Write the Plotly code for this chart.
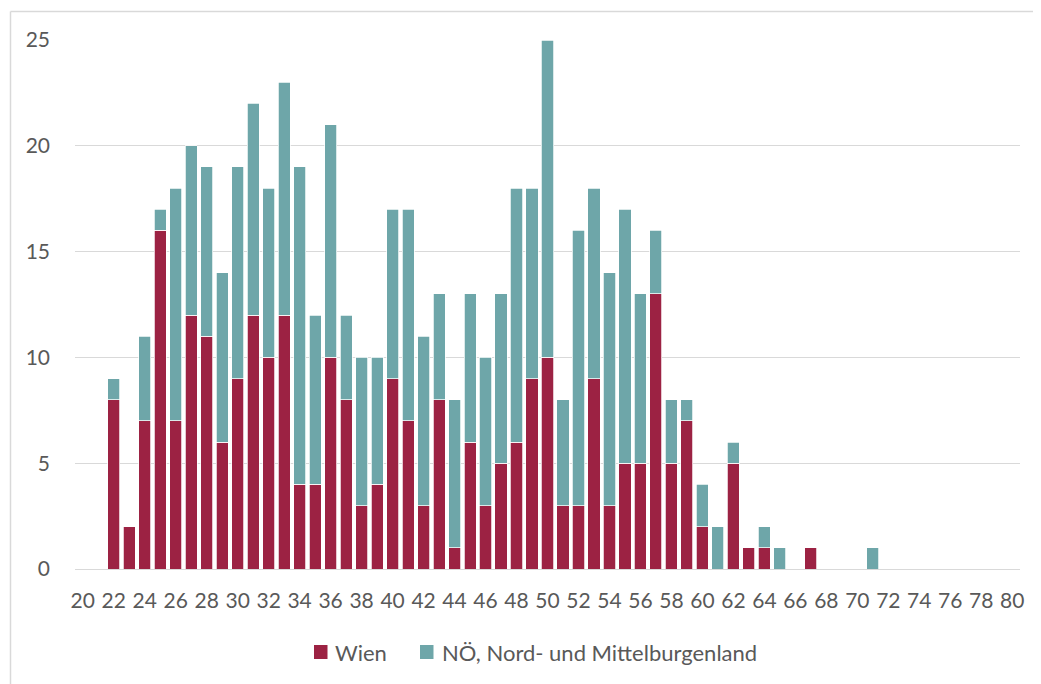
import plotly.graph_objects as go

# Age categories (x axis)
ages = list(range(20, 81))

# Counts per age: Wien (red) and NÖ, Nord- und Mittelburgenland (teal)
wien = [0, 0, 8, 2, 7, 16, 7, 12, 11, 6,
        9, 12, 10, 12, 4, 4, 10, 8, 3, 4,
        9, 7, 3, 8, 1, 6, 3, 5, 6, 9,
        10, 3, 3, 9, 3, 5, 5, 13, 5, 7,
        2, 0, 5, 1, 1, 0, 0, 1, 0, 0,
        0, 0, 0, 0, 0, 0, 0, 0, 0, 0,
        0]
noe = [0, 0, 1, 0, 4, 1, 11, 8, 8, 8,
       10, 10, 8, 11, 15, 8, 11, 4, 7, 6,
       8, 10, 8, 5, 7, 7, 7, 8, 12, 9,
       15, 5, 13, 9, 11, 12, 8, 3, 3, 1,
       2, 2, 1, 0, 1, 1, 0, 0, 0, 0,
       0, 1, 0, 0, 0, 0, 0, 0, 0, 0,
       0]

x_ticks = list(range(20, 81, 2))
y_ticks = [0, 5, 10, 15, 20, 25]

series_names = ["Wien", "NÖ, Nord- und Mittelburgenland"]
colors = ["#9C2243", "#6EA6A9"]

# page body has an 8px margin; work in screen pixels and convert
OFF = 8
W, H = 1041 - OFF, 684 - OFF
ML, MR, MT, MB = 75 - OFF, 21, 40 - OFF, 115
pw, ph = W - ML - MR, H - MT - MB

def sx(px):
    return (px - OFF - ML) / pw

def sy(py):
    return (H - MB - (py - OFF)) / ph

fig = go.Figure()
for name, vals, col in zip(series_names, [wien, noe], colors):
    fig.add_trace(go.Bar(
        x=ages, y=vals, name=name,
        marker=dict(color=col, line=dict(color="white", width=0.75)),
        showlegend=False,
    ))

grid_col = "#D9D9D9"
text_col = "#595959"
font_family = "Lato, 'Open Sans', sans-serif"

# legend drawn as swatches + text (positions in screen px)
legend_items = [(314, 333), (420, 440)]
legend_cy = 652
shapes = [
    dict(type="line", xref="paper", yref="paper",
         x0=sx(10.5), x1=sx(10.5), y0=sy(11.5), y1=sy(700),
         line=dict(color=grid_col, width=1.5)),
    dict(type="line", xref="paper", yref="paper",
         x0=sx(10.5), x1=sx(1060), y0=sy(11.5), y1=sy(11.5),
         line=dict(color=grid_col, width=1.5)),
]
annotations = []
for (sqx, tx), name, col in zip(legend_items, series_names, colors):
    shapes.append(dict(type="rect", xref="paper", yref="paper",
                       x0=sx(sqx), x1=sx(sqx + 13.5),
                       y0=sy(legend_cy - 7), y1=sy(legend_cy + 7),
                       fillcolor=col, line=dict(width=0)))
    annotations.append(dict(text=name, xref="paper", yref="paper",
                            x=sx(tx), y=sy(legend_cy),
                            xanchor="left", yanchor="middle",
                            showarrow=False,
                            font=dict(size=22, color=text_col)))

fig.update_layout(
    width=W, height=H,
    barmode="stack",
    bargap=0.22,
    paper_bgcolor="white",
    plot_bgcolor="white",
    margin=dict(l=ML, r=MR, t=MT, b=MB, pad=0),
    font=dict(family=font_family, size=21, color=text_col),
    showlegend=False,
    xaxis=dict(
        range=[19.5, 80.5],
        tickmode="array",
        tickvals=x_ticks,
        ticktext=[str(t) for t in x_ticks],
        showgrid=False,
        zeroline=False,
        showline=True,
        linecolor=grid_col,
        linewidth=1,
        ticks="",
        ticklabelstandoff=13,
        tickfont=dict(size=21, color=text_col),
        fixedrange=True,
    ),
    yaxis=dict(
        range=[0, 25],
        tickmode="array",
        tickvals=y_ticks,
        showgrid=True,
        gridcolor=grid_col,
        gridwidth=1,
        zeroline=False,
        showline=False,
        ticks="",
        ticklabelstandoff=24,
        tickfont=dict(size=21, color=text_col),
        fixedrange=True,
    ),
    shapes=shapes,
    annotations=annotations,
)

fig.write_html("out.html", config={"displayModeBar": False})
